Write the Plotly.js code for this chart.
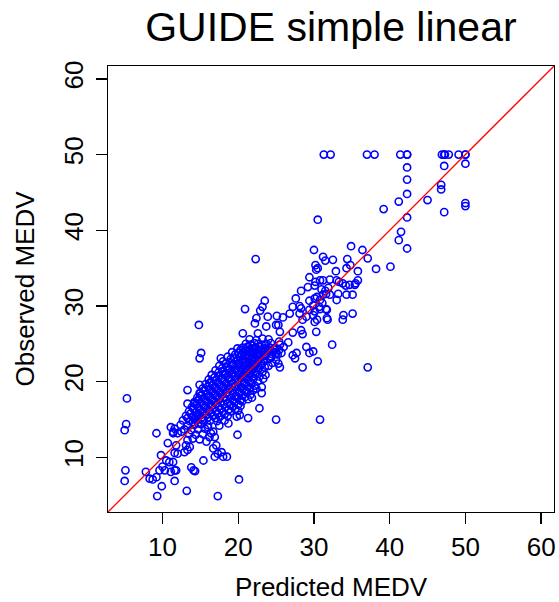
<!DOCTYPE html>
<html>
<head>
<meta charset="utf-8">
<script src="https://cdn.plot.ly/plotly-3.0.1.min.js"></script>
<style>html,body{margin:0;padding:0;background:#fff;}#chart{width:559px;height:602px;}</style>
</head>
<body>
<div id="chart"></div>
<script>
// Axis settings
const axisRange = [2.8, 61.7];
const tickValues = [10, 20, 30, 40, 50, 60];
const tickLabels = ["10", "20", "30", "40", "50", "60"];

// Observations with high MEDV
const predHigh = [31.3, 32.2, 37.0, 38.0, 41.4, 42.3, 42.3, 46.9, 47.2, 47.3, 47.8, 49.1, 50.0, 50.0,
  42.3, 42.3, 42.3, 41.2, 39.2, 45.0, 46.8, 46.8, 47.2, 50.0, 50.0, 50.0, 47.2, 42.3, 41.5, 41.2, 42.3, 40.1, 38.2, 30.5, 34.9, 36.4, 30.0];
const obsHigh = [50, 50, 50, 50, 50, 50, 50, 50, 50, 50, 50, 50, 50, 50,
  48.3, 46.7, 44.8, 43.8, 42.8, 44.0, 46.0, 45.4, 48.5, 48.8, 43.6, 43.2, 42.4, 41.7, 39.8, 38.7, 37.6, 35.2, 34.9, 41.4, 37.9, 37.4, 37.4];

// Upper-middle observations
const predUpper = [22.3, 31.2, 31.5, 32.5, 37.1, 34.4, 35.8, 34.3, 34.8, 30.2, 30.5, 30.3, 32.9, 29.4,
  30.2, 30.8, 31.2, 32.1, 33.0, 33.3, 33.8, 34.7, 35.4, 35.8,
  28.3, 29.2, 30.1, 31.0, 31.5, 31.9,
  30.1, 30.4, 30.8, 31.2, 31.6, 32.1, 33.2, 34.2, 34.3, 35.1, 35.5,
  29.4, 29.9, 30.7, 31.1, 31.6, 33.0, 33.9, 35.1,
  27.6, 27.2, 28.1, 28.3,
  23.5, 23.2, 22.9, 22.4, 22.2, 20.9,
  29.4, 30.1, 30.8, 31.7, 31.7, 30.4, 29.9, 29.0, 28.1, 26.8, 25.9, 25.1, 25.0, 23.9, 23.7, 25.3];
const obsUpper = [36.2, 36.5, 36.0, 36.1, 36.3, 36.2, 34.6, 35.0, 35.4, 35.4, 35.0, 34.8, 34.6, 33.8,
  33.2, 33.4, 33.4, 33.5, 33.4, 33.2, 33.0, 32.8, 32.8, 33.4,
  32.0, 32.5, 32.7, 32.2, 32.0, 32.4,
  31.0, 31.2, 30.8, 31.5, 31.6, 31.5, 31.6, 32.7, 31.5, 31.5, 33.0,
  30.7, 30.1, 29.9, 30.4, 29.6, 30.8, 28.8, 29.0,
  31.0, 29.9, 30.0, 29.7,
  30.7, 29.9, 29.4, 28.4, 27.7, 29.6,
  29.5, 29.3, 29.6, 29.5, 28.4, 28.2, 28.8, 28.6, 29.0, 29.0, 28.5, 28.7, 27.5, 28.6, 27.3, 27.5];

// Middle observations
const predMid = [37.1, 32.4, 30.5, 28.5, 29.4, 29.9, 29.0, 27.7, 27.5, 27.2, 25.5, 25.7, 25.3, 25.5, 25.0,
  30.3, 28.5, 27.2, 28.3, 25.0, 30.8, 22.8, 23.3, 23.1, 23.1, 28.5, 30.1, 31.8, 33.8,
  14.8, 15.1, 14.9, 17.7, 20.6, 22.6, 25.5, 25.0, 26.0, 26.6, 25.4];
const obsMid = [21.9, 24.9, 22.7, 21.9, 23.8, 24.0, 24.6, 23.8, 23.1, 23.5, 24.9, 23.8, 22.4, 21.9, 22.9,
  26.6, 26.3, 26.5, 26.8, 15.0, 15.0, 16.5, 20.4, 19.3, 18.5, 28.2, 27.9, 28.2, 28.2,
  27.5, 23.8, 23.1, 23.1, 26.4, 26.4, 26.6, 23.8, 24.6, 25.2, 25.3];

// Lower observations
const predLow = [19.9, 18.5, 15.4, 20.1, 17.3, 16.9, 17.3, 17.8, 21.3, 18.7, 18.2, 19.8, 20.2, 17.1, 16.7, 15.8, 16.2, 16.7,
  5.3, 5.2, 5.0, 5.1, 5.0, 9.3, 13.2, 9.9, 9.2, 7.8, 8.3, 8.7, 9.2, 9.6, 10.3, 10.0, 9.8, 11.6, 11.1, 11.6, 11.8, 10.9, 10.5, 11.4, 13.8, 14.1, 14.3, 18.0,
  10.7, 11.8, 11.6, 12.0, 12.9, 13.3, 13.6, 13.1, 13.3, 11.1, 11.6, 11.4, 12.0, 12.5, 11.4,
  13.3, 14.2, 14.7, 15.1, 13.3, 14.0, 14.4, 14.7, 15.3, 16.0, 16.4, 16.9, 14.9, 16.2, 14.9];
const obsLow = [13.0, 10.1, 9.6, 7.1, 4.9, 10.1, 10.5, 10.7, 15.2, 14.5, 14.9, 15.4, 15.6, 11.6, 11.2, 12.1, 12.7, 13.4,
  17.8, 14.4, 13.6, 8.3, 6.9, 4.9, 5.6, 6.2, 13.2, 8.1, 7.2, 7.1, 7.4, 8.3, 8.3, 8.8, 10.3, 6.9, 8.1, 8.3, 8.3, 9.4, 9.6, 9.4, 8.7, 8.3, 8.2, 10.1,
  11.9, 11.6, 10.6, 10.5, 10.7, 11.0, 11.4, 11.6, 12.3, 14.0, 13.8, 13.4, 13.2, 13.4, 13.2,
  17.1, 17.1, 17.6, 18.2, 18.9, 14.7, 15.4, 14.5, 14.9, 14.0, 13.2, 12.7, 19.6, 19.8, 18.5];

// Dense core of observations
const predCore = [21.0, 21.6, 22.1, 22.6, 23.1, 23.7, 24.3,
  21.5, 22.4, 23.2, 24.0,
  19.9, 20.6, 21.2, 21.8, 22.3, 22.9, 23.5, 24.2, 24.8,
  19.2, 20.0, 20.7, 21.4, 22.0, 22.6, 23.2, 23.9, 24.6,
  18.6, 19.4, 20.2, 20.9, 21.6, 22.2, 22.9, 23.6, 24.4,
  18.0, 18.9, 19.8, 20.5, 21.2, 21.9, 22.6, 23.4,
  17.5, 18.4, 19.3, 20.1, 20.8, 21.5, 22.2, 23.0, 24.0,
  17.0, 17.9, 18.8, 19.7, 20.4, 21.1, 21.8, 22.6,
  16.5, 17.4, 18.3, 19.2, 20.0, 20.7, 21.5, 22.3, 23.6,
  16.1, 17.0, 17.9, 18.8, 19.6, 20.4, 21.2, 22.0,
  15.7, 16.6, 17.5, 18.4, 19.2, 20.0, 20.8, 21.7,
  15.3, 16.2, 17.1, 18.0, 18.8, 19.7, 20.6, 21.5, 22.4,
  15.0, 15.8, 16.7, 17.6, 18.4, 19.3, 20.2, 21.1,
  14.6, 15.4, 16.3, 17.2, 18.1, 19.0, 19.9, 20.9, 21.8,
  14.2, 15.0, 15.9, 16.8, 17.7, 18.6, 19.5, 20.5,
  13.9, 14.7, 15.6, 16.5, 17.4, 18.3, 19.3, 20.3,
  13.5, 14.4, 15.3, 16.2, 17.1, 18.0, 19.0, 20.0,
  13.1, 14.0, 14.9, 15.8, 16.7, 17.6, 18.6,
  12.7, 13.6, 14.5, 15.4, 16.3, 17.2,
  12.4, 13.3, 14.2, 15.1, 16.0, 17.5,
  12.9, 13.8, 14.7, 15.6,
  13.5, 14.4, 15.3,
  14.0, 14.9];
const obsCore = [25.0, 24.9, 25.1, 25.0, 24.9, 25.0, 25.1,
  25.6, 25.5, 25.7, 25.6,
  24.4, 24.5, 24.6, 24.4, 24.5, 24.6, 24.4, 24.5, 24.4,
  23.9, 23.8, 23.9, 24.0, 23.9, 23.8, 23.9, 24.0, 23.9,
  23.3, 23.2, 23.3, 23.4, 23.3, 23.2, 23.3, 23.4, 23.3,
  22.7, 22.6, 22.8, 22.7, 22.6, 22.7, 22.8, 22.7,
  22.1, 22.0, 22.1, 22.2, 22.1, 22.0, 22.1, 22.2, 22.1,
  21.5, 21.4, 21.5, 21.6, 21.5, 21.4, 21.5, 21.6,
  20.9, 20.8, 20.9, 21.0, 20.9, 20.8, 20.9, 21.0, 20.9,
  20.3, 20.2, 20.3, 20.4, 20.3, 20.2, 20.3, 20.4,
  19.7, 19.6, 19.7, 19.8, 19.7, 19.6, 19.7, 19.8,
  19.1, 19.0, 19.1, 19.2, 19.1, 19.0, 19.1, 19.2, 19.1,
  18.5, 18.4, 18.5, 18.6, 18.5, 18.4, 18.5, 18.6,
  17.9, 17.8, 17.9, 18.0, 17.9, 17.8, 17.9, 18.0, 17.9,
  17.3, 17.2, 17.3, 17.4, 17.3, 17.2, 17.3, 17.4,
  16.7, 16.6, 16.7, 16.8, 16.7, 16.6, 16.7, 16.8,
  16.1, 16.0, 16.1, 16.2, 16.1, 16.0, 16.1, 16.2,
  15.5, 15.4, 15.5, 15.6, 15.5, 15.4, 15.5,
  14.9, 14.8, 14.9, 15.0, 14.9, 14.8,
  14.3, 14.2, 14.3, 14.4, 14.3, 14.2,
  13.7, 13.6, 13.7, 13.8,
  13.1, 13.0, 13.1,
  12.5, 12.4];

// Dense core, interleaved observations
const predCore2 = [20.3, 21.0, 21.6, 22.2, 22.8, 23.4, 24.0, 24.7, 25.4,
  19.6, 20.4, 21.1, 21.8, 22.4, 23.0, 23.7, 24.4, 25.2,
  19.0, 19.9, 20.7, 21.4, 22.0, 22.7, 23.4, 24.2,
  18.4, 19.3, 20.1, 20.9, 21.6, 22.3, 23.1, 24.5,
  17.9, 18.8, 19.7, 20.5, 21.2, 21.9, 22.7, 23.5,
  17.4, 18.3, 19.2, 20.1, 20.8, 21.5, 22.3, 23.2,
  16.9, 17.8, 18.7, 19.6, 20.4, 21.1, 21.9, 22.8,
  16.4, 17.3, 18.2, 19.1, 20.0, 20.8, 21.6, 22.6,
  16.0, 16.9, 17.8, 18.7, 19.6, 20.4, 21.3, 22.2,
  15.6, 16.5, 17.4, 18.3, 19.2, 20.1, 21.0, 22.0,
  15.2, 16.1, 17.0, 17.9, 18.8, 19.7, 20.6, 21.6,
  14.8, 15.7, 16.6, 17.5, 18.4, 19.3, 20.3, 21.3,
  14.5, 15.4, 16.3, 17.2, 18.1, 19.0, 20.0,
  14.1, 15.0, 15.9, 16.8, 17.7, 18.7, 19.6,
  13.7, 14.6, 15.5, 16.4, 17.3, 18.2,
  13.3, 14.2, 15.1, 16.0, 17.0];
const obsCore2 = [24.2, 24.1, 24.2, 24.3, 24.2, 24.1, 24.2, 24.3, 24.2,
  23.6, 23.5, 23.6, 23.7, 23.6, 23.5, 23.6, 23.7, 23.6,
  23.0, 22.9, 23.0, 23.1, 23.0, 22.9, 23.0, 23.1,
  22.4, 22.3, 22.4, 22.5, 22.4, 22.3, 22.4, 22.5,
  21.8, 21.7, 21.8, 21.9, 21.8, 21.7, 21.8, 21.9,
  21.2, 21.1, 21.2, 21.3, 21.2, 21.1, 21.2, 21.3,
  20.6, 20.5, 20.6, 20.7, 20.6, 20.5, 20.6, 20.7,
  20.0, 19.9, 20.0, 20.1, 20.0, 19.9, 20.0, 20.1,
  19.4, 19.3, 19.4, 19.5, 19.4, 19.3, 19.4, 19.5,
  18.8, 18.7, 18.8, 18.9, 18.8, 18.7, 18.8, 18.9,
  18.2, 18.1, 18.2, 18.3, 18.2, 18.1, 18.2, 18.3,
  17.6, 17.5, 17.6, 17.7, 17.6, 17.5, 17.6, 17.7,
  17.0, 16.9, 17.0, 17.1, 17.0, 16.9, 17.0,
  16.4, 16.3, 16.4, 16.5, 16.4, 16.3, 16.4,
  15.8, 15.7, 15.8, 15.9, 15.8, 15.7,
  15.2, 15.1, 15.2, 15.3, 15.2];

const predicted = [].concat(predHigh, predUpper, predMid, predLow, predCore, predCore2);
const observed = [].concat(obsHigh, obsUpper, obsMid, obsLow, obsCore, obsCore2);

const FONT = '"Liberation Sans", Arial, Helvetica, sans-serif';

const points = {
  x: predicted, y: observed, type: 'scatter', mode: 'markers',
  marker: {symbol: 'circle-open', size: 7.2, color: '#0000FF', line: {color: '#0000FF', width: 1.6}},
  hoverinfo: 'x+y', showlegend: false
};
const diag = {
  x: axisRange, y: axisRange, type: 'scatter', mode: 'lines',
  line: {color: '#FF0000', width: 1.3}, showlegend: false, hoverinfo: 'skip'
};

const axisCommon = {
  range: axisRange, tickmode: 'array', tickvals: tickValues, ticktext: tickLabels,
  ticks: 'outside', ticklen: 11, tickwidth: 1.3, tickcolor: '#000',
  showline: true, mirror: true, linecolor: '#000', linewidth: 1.3,
  showgrid: false, zeroline: false, tickfont: {family: FONT, size: 26, color: '#000'}
};

const layout = {
  width: 559, height: 602,
  margin: {l: 108, r: 5, t: 66, b: 90, pad: 0},
  paper_bgcolor: '#fff', plot_bgcolor: '#fff',
  title: {text: 'GUIDE simple linear', font: {family: FONT, size: 41, color: '#000'},
          x: 0.592, xanchor: 'center', y: 0.955, yanchor: 'middle', xref: 'container', yref: 'container'},
  xaxis: Object.assign({}, axisCommon, {
    title: {text: 'Predicted MEDV', font: {family: FONT, size: 26, color: '#000'}, standoff: 22},
    ticklabelstandoff: 0
  }),
  yaxis: Object.assign({}, axisCommon, {
    tickangle: -90,
    title: {text: 'Observed MEDV', font: {family: FONT, size: 26, color: '#000'}, standoff: 17},
    ticklabelstandoff: 2
  }),
  showlegend: false
};

Plotly.newPlot('chart', [points, diag], layout, {displayModeBar: false, staticPlot: true});
</script>
</body>
</html>
